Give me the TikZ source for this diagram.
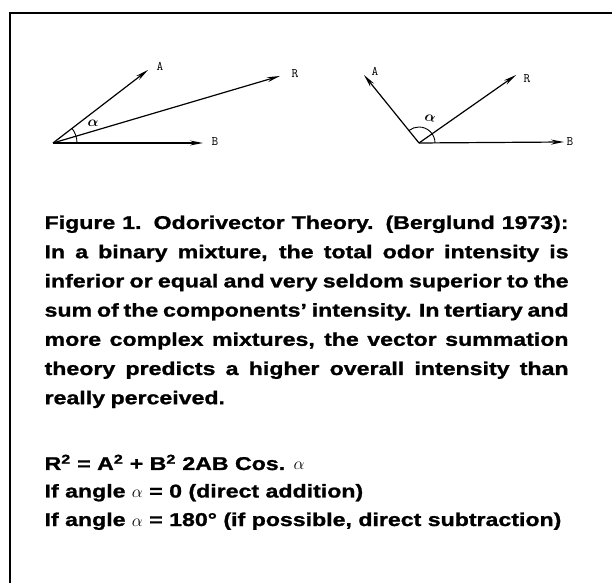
\documentclass[tikz,border=0pt]{standalone}
\usepackage{fontspec}
\setmainfont{Liberation Sans}[FakeStretch=1.25, BoldFeatures={FakeBold=1.2}]
\usepackage{amsmath, amssymb}
\usetikzlibrary{arrows.meta, positioning, calc}

\newcommand{\apretado}{\spaceskip=0.3em plus 0.6em minus 0.2em\relax}

\begin{document}
\begin{tikzpicture}[
    x=1pt, y=1pt,
    every path/.style={line width=1.2pt},
    >={Stealth[length=13pt, width=5pt]}
]
    \tikzset{
        vector/.style={->, line width=1.2pt},
        angulo/.style={line width=0.9pt},
        tag/.style={font=\fontsize{13}{13}\ttfamily, inner sep=0pt},
        alfa/.style={font=\fontsize{14}{14}\boldmath, inner sep=0pt},
        caption/.style={font=\fontsize{18.5}{29.2}\bfseries, inner sep=0pt, text width=524pt, align=justify, anchor=base west},
        formula/.style={font=\fontsize{18.5}{26.3}\bfseries, inner sep=0pt, anchor=base west}
    }

    % Marco
    \useasboundingbox (0,0) rectangle (612,583);
    \draw[line width=2.6pt] (10,0) -- (10,570) -- (612,570);

    % Vectores, izquierda
    \coordinate (O1) at (53,440);
    \coordinate (A1) at (148,513);
    \coordinate (R1) at (280,507);
    \coordinate (B1) at (203,440);
    \node[tag] (lA1) at (160,517) {A};
    \node[tag] (lR1) at (295,509) {R};
    \node[tag] (lB1) at (215,441) {B};
    \draw[vector] (O1) -- (A1);
    \draw[vector] (O1) -- (R1);
    \draw[vector] (O1) -- (B1);
    \draw[angulo] (O1) ++(0:24) arc (0:37.7:24);
    \node[alfa] (al1) at (93,460) {$\alpha$};

    % Vectores, derecha
    \coordinate (O2) at (419,440);
    \coordinate (A2) at (364,508);
    \coordinate (R2) at (516,508);
    \coordinate (B2) at (564,441);
    \node[tag] (lA2) at (375,512) {A};
    \node[tag] (lR2) at (527,504) {R};
    \node[tag] (lB2) at (570,441) {B};
    \draw[vector] (O2) -- (A2);
    \draw[vector] (O2) -- (R2);
    \draw[vector] (O2) -- (B2);
    \draw[angulo] (O2) ++(0:16) arc (0:129:16);
    \node[alfa, rotate=-10] (al2) at (430,465) {$\alpha$};

    % Texto
    \node[caption] (texto) at (44,354) {\apretado Figure 1. Odorivector Theory. (Berglund 1973):\linebreak
        In a binary mixture, the total odor intensity is\linebreak
        inferior or equal and very seldom superior to the\linebreak
        sum of the components' intensity. In tertiary and\linebreak
        more complex mixtures, the vector summation\linebreak
        theory predicts a higher overall intensity than\linebreak
        really perceived.};
    \node[formula] (f1) at (44,113) {R\textsuperscript{2} = A\textsuperscript{2} + B\textsuperscript{2} 2AB Cos. $\alpha$};
    \node[formula] (f2) at (44,85.5) {If angle $\alpha$ = 0 (direct addition)};
    \node[formula] (f3) at (44,57) {If angle $\alpha$ = 180° (if possible, direct subtraction)};
\end{tikzpicture}
\end{document}
